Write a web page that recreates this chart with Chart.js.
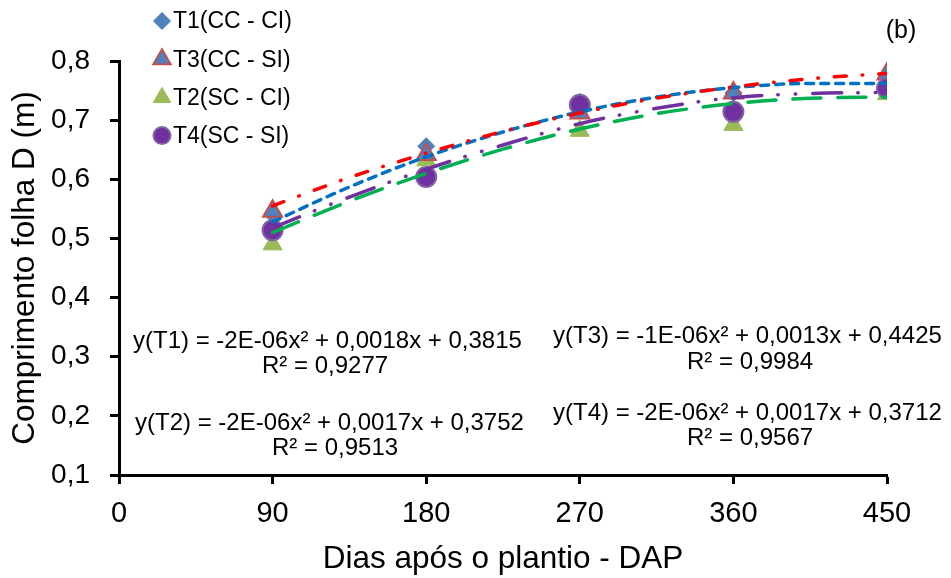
<!DOCTYPE html>
<html>
<head>
<meta charset="utf-8">
<script src="https://cdn.jsdelivr.net/npm/chart.js@4.4.1/dist/chart.umd.min.js"></script>
<style>
  html, body { margin: 0; padding: 0; background: #fff; }
  #chart { display: block; }
</style>
</head>
<body>
<canvas id="chart" width="951" height="578"></canvas>
<script>
// ticks
const dayTicks = [0, 90, 180, 270, 360, 450];
const lengthTicks = [0.1, 0.2, 0.3, 0.4, 0.5, 0.6, 0.7, 0.8];

// observed means (m) per treatment
const sampleDays = [90, 180, 270, 360, 450];
const t1Values = [0.540, 0.656, 0.731, 0.746, 0.776];
const t3Values = [0.546, 0.642, 0.712, 0.746, 0.778];
const t2Values = [0.490, 0.632, 0.682, 0.692, 0.744];
const t4Values = [0.514, 0.604, 0.726, 0.714, 0.754];

// trend curves
const trendDays = [90, 135, 180, 225, 270, 315, 360, 405, 450];
const trendT1 = [0.528, 0.587, 0.638, 0.680, 0.714, 0.739, 0.755, 0.762, 0.762];
const trendT3 = [0.555, 0.603, 0.644, 0.681, 0.712, 0.737, 0.756, 0.770, 0.779];
const trendT2 = [0.510, 0.563, 0.610, 0.651, 0.685, 0.711, 0.728, 0.737, 0.739];
const trendT4 = [0.518, 0.570, 0.617, 0.658, 0.694, 0.720, 0.738, 0.745, 0.747];

const seriesNames = ['T1(CC - CI)', 'T3(CC - SI)', 'T2(SC - CI)', 'T4(SC - SI)'];
const eqLabels = [
  'y(T1) = -2E-06x² + 0,0018x + 0,3815',
  'y(T2) = -2E-06x² + 0,0017x + 0,3752',
  'y(T3) = -1E-06x² + 0,0013x + 0,4425',
  'y(T4) = -2E-06x² + 0,0017x + 0,3712'
];
const r2Labels = ['R² = 0,9277', 'R² = 0,9513', 'R² = 0,9984', 'R² = 0,9567'];
const panelLabel = '(b)';

const FONT = "'Liberation Sans', Arial, sans-serif";
const toXY = (xs, ys) => xs.map((x, i) => ({ x: x, y: ys[i] }));
const comma = v => v.toFixed(1).replace('.', ',');

// marker looks, same order as seriesNames
const markers = [
  { style: 'rectRot', radius: 8.5, legendRadius: 8.5, bg: '#4F81BD', border: '#4A7EBB', bw: 1 },
  { style: 'triangle', radius: 11, legendRadius: 10, bg: '#4F81BD', border: '#C0504D', bw: 2 },
  { style: 'triangle', radius: 11, legendRadius: 10, bg: '#9BBB59', border: '#98B954', bw: 1 },
  { style: 'circle', radius: 10, legendRadius: 8.5, bg: '#7030A0', border: '#8064A2', bw: 2 }
];

function markerSet(label, data, m, order) {
  return {
    label: label, data: data, order: order,
    pointStyle: m.style, pointRadius: m.radius, pointHoverRadius: m.radius,
    backgroundColor: m.bg, borderColor: m.border, borderWidth: m.bw,
    showLine: false
  };
}
function trendSet(label, data, color, dash, order) {
  return {
    label: label, data: data, order: order, showLine: true,
    borderColor: color, borderWidth: 3.5, borderDash: dash, borderCapStyle: 'round',
    pointRadius: 0, pointHoverRadius: 0, fill: false,
    cubicInterpolationMode: 'monotone'
  };
}

// legend + equation texts drawn on top
const annotations = {
  id: 'annotations',
  afterDraw(chart) {
    const ctx = chart.ctx;
    ctx.save();
    // legend
    const lx = 162, lyStart = 21, lStep = 38.2;
    seriesNames.forEach((name, i) => {
      const m = markers[i];
      const y = lyStart + i * lStep;
      ctx.fillStyle = m.bg;
      ctx.strokeStyle = m.border;
      ctx.lineWidth = m.bw;
      Chart.helpers.drawPoint(ctx, { pointStyle: m.style, radius: m.legendRadius, borderWidth: m.bw, rotation: 0 }, lx, y);
      ctx.fillStyle = '#000';
      ctx.font = '23px ' + FONT;
      ctx.textAlign = 'left';
      ctx.textBaseline = 'middle';
      ctx.fillText(name, 173, y + 1);
    });
    // equations
    ctx.font = '24px ' + FONT;
    ctx.fillStyle = '#000';
    ctx.textBaseline = 'middle';
    ctx.textAlign = 'left';
    const eqPos = [[133, 341, 262, 366], [135, 423, 272, 448], [553, 336, 687, 362], [553, 413, 687, 438]];
    eqPos.forEach((p, i) => {
      ctx.fillText(eqLabels[i], p[0], p[1]);
      ctx.fillText(r2Labels[i], p[2], p[3]);
    });
    ctx.font = '25px ' + FONT;
    ctx.textAlign = 'center';
    ctx.fillText(panelLabel, 901, 31);
    ctx.restore();
  }
};

new Chart(document.getElementById('chart').getContext('2d'), {
  type: 'scatter',
  data: {
    datasets: [
      markerSet(seriesNames[0], toXY(sampleDays, t1Values), markers[0], 8),
      markerSet(seriesNames[2], toXY(sampleDays, t2Values), markers[2], 7),
      markerSet(seriesNames[1], toXY(sampleDays, t3Values), markers[1], 6),
      markerSet(seriesNames[3], toXY(sampleDays, t4Values), markers[3], 5),
      trendSet('Trend T1', toXY(trendDays, trendT1), '#0070C0', [8, 7], 4),
      trendSet('Trend T3', toXY(trendDays, trendT3), '#FF0000', [12, 16, 0.5, 16], 3),
      trendSet('Trend T2', toXY(trendDays, trendT2), '#00B050', [28, 17], 2),
      trendSet('Trend T4', toXY(trendDays, trendT4), '#7030A0', [29, 16, 0.5, 17, 0.5, 17], 1)
    ]
  },
  options: {
    responsive: false,
    animation: false,
    devicePixelRatio: 1,
    layout: { padding: { top: 61, right: 64, left: 0, bottom: 0 } },
    plugins: { legend: { display: false }, tooltip: { enabled: false } },
    scales: {
      x: {
        type: 'linear', min: 0, max: 450,
        afterBuildTicks: s => { s.ticks = dayTicks.map(v => ({ value: v })); },
        afterFit: s => { s.height = 103; },
        border: { display: true, color: '#000', width: 3 },
        grid: { drawOnChartArea: false, drawTicks: true, tickLength: 9, tickColor: '#000', tickWidth: 3, color: '#000' },
        ticks: { color: '#000', font: { family: FONT, size: 29 }, padding: 13, maxRotation: 0 },
        title: { display: true, text: 'Dias após o plantio - DAP', color: '#000', font: { family: FONT, size: 31.5 }, padding: { top: 0, bottom: 0 } }
      },
      y: {
        type: 'linear', min: 0.1, max: 0.8,
        afterBuildTicks: s => { s.ticks = lengthTicks.map(v => ({ value: v })); },
        afterFit: s => { s.width = 119; },
        border: { display: true, color: '#000', width: 3 },
        grid: { drawOnChartArea: false, drawTicks: true, tickLength: 9, tickColor: '#000', tickWidth: 3, color: '#000' },
        ticks: { color: '#000', font: { family: FONT, size: 28 }, padding: 20, callback: v => comma(v) },
        title: { display: true, text: 'Comprimento folha D (m)', color: '#000', font: { family: FONT, size: 31.5 }, padding: { top: 6, bottom: 0 } }
      }
    }
  },
  plugins: [annotations]
});
</script>
</body>
</html>
